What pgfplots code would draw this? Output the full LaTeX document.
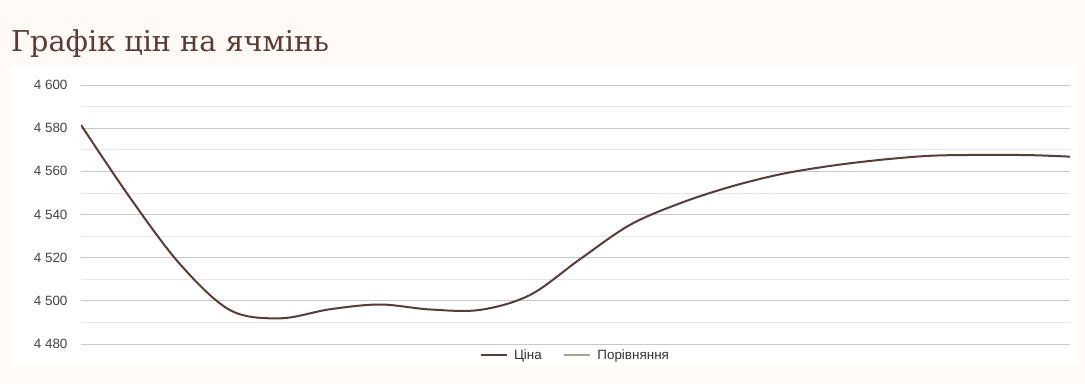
\documentclass[border=0pt]{standalone}
\usepackage{pgfplots}
\pgfplotsset{compat=1.18}
\usepackage{fontspec}
\setmainfont{Liberation Sans}
\newfontfamily\titlefont{DejaVu Serif}
\definecolor{bgcream}{HTML}{FFFAF6}
\definecolor{pricebrown}{HTML}{583C38}
\definecolor{titlebrown}{HTML}{5A3B37}
\definecolor{cmpgreen}{HTML}{A6A690}
\definecolor{ticktext}{HTML}{444444}
\begin{document}
\begin{tikzpicture}[x=1bp,y=1bp]
\fill[bgcream] (0,0) rectangle (1085,384);
\path[use as bounding box] (0,0) rectangle (1085,384);
\fill[white] (11,19) rectangle (1079,319);
\node[anchor=base west, inner sep=0pt, text=titlebrown, font=\titlefont\fontsize{28.8}{32}\selectfont] at (11,333) {Графік цін на ячмінь};
\begin{axis}[
  at={(81bp,40bp)}, anchor=south west,
  scale only axis, width=989bp, height=259bp,
  xmin=81, xmax=1070, ymin=4480, ymax=4600,
  axis line style={draw=none},
  xtick=\empty,
  ytick={4480,4500,4520,4540,4560,4580,4600},
  yticklabels={4 480,4 500,4 520,4 540,4 560,4 580,4 600},
  minor ytick={4490,4510,4530,4550,4570,4590},
  tick style={draw=none},
  ymajorgrids, yminorgrids,
  major grid style={draw=black!22, line width=0.8bp},
  minor grid style={draw=black!9, line width=0.8bp},
  yticklabel style={font=\fontsize{13.5}{15}\selectfont, text=ticktext, xshift=-10bp},
  legend style={at={(0.5,-0.042)}, anchor=center, draw=none, fill=none,
    font=\fontsize{13.5}{15}\selectfont, text=black!80,
    /tikz/every odd column/.append style={column sep=4bp},
    /tikz/every even column/.append style={column sep=19bp}},
  legend columns=2,
  legend image code/.code={\draw[#1] (0bp,0bp) -- (26bp,0bp);},
]
\addplot[color=pricebrown, line width=2bp, smooth, tension=0.55] coordinates {
(81,4581.5) (130,4547.8) (180,4517.0) (230,4495.7) (280,4491.9) (330,4496.1)
(380,4498.3) (430,4496.0) (480,4495.8) (530,4502.7) (580,4519.3) (630,4535.2)
(680,4545.2) (730,4552.8) (780,4558.6) (830,4562.5) (880,4565.3) (930,4567.2)
(980,4567.6) (1030,4567.5) (1070,4566.8)
};
\addlegendentry{Ціна}
\addlegendimage{color=cmpgreen, line width=2.5bp}
\addlegendentry{Порівняння}
\end{axis}
\end{tikzpicture}
\end{document}
